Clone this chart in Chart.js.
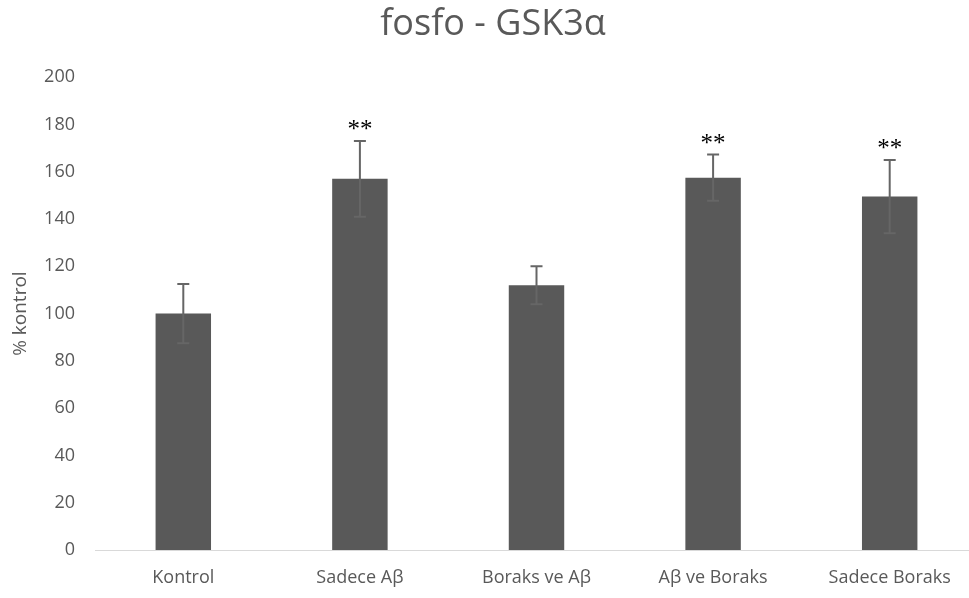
<!DOCTYPE html>
<html>
<head>
<meta charset="utf-8">
<script src="https://cdn.jsdelivr.net/npm/chart.js@4/dist/chart.umd.min.js"></script>
<style>
  html, body { margin: 0; padding: 0; background: #fff; overflow: hidden; }
  #wrap { width: 980px; height: 598px; }
</style>
</head>
<body>
<div id="wrap"><canvas id="c" width="980" height="598"></canvas></div>
<script>
// Groups and measured values (% of control)
const categories = ['Kontrol', 'Sadece A\u03B2', 'Boraks ve A\u03B2', 'A\u03B2 ve Boraks', 'Sadece Boraks'];
const means = [100, 157, 112, 157.5, 149.5];
const errors = [12.5, 16, 8, 9.8, 15.5];
const significance = ['', '**', '', '**', '**'];
const yTicks = [0, 20, 40, 60, 80, 100, 120, 140, 160, 180, 200];

const textColor = '#595959';

// Error bars with caps, plus significance marks above them
const errorBarPlugin = {
  id: 'errorBars',
  afterDatasetsDraw(chart) {
    const ctx = chart.ctx;
    const meta = chart.getDatasetMeta(0);
    const y = chart.scales.y;
    ctx.save();
    meta.data.forEach((bar, i) => {
      const x = bar.x;
      const top = y.getPixelForValue(means[i] + errors[i]);
      const bottom = y.getPixelForValue(means[i] - errors[i]);
      ctx.strokeStyle = '#666666';
      ctx.lineWidth = 2;
      ctx.beginPath();
      ctx.moveTo(x, top);
      ctx.lineTo(x, bottom);
      ctx.moveTo(x - 6, top);
      ctx.lineTo(x + 6, top);
      ctx.moveTo(x - 6, bottom);
      ctx.lineTo(x + 6, bottom);
      ctx.stroke();
      if (significance[i]) {
        ctx.fillStyle = '#000000';
        ctx.font = '25px "Liberation Serif", "DejaVu Serif", serif';
        ctx.textAlign = 'center';
        ctx.textBaseline = 'alphabetic';
        ctx.fillText(significance[i], x, top - 4);
      }
    });
    ctx.restore();
  }
};

new Chart(document.getElementById('c'), {
  type: 'bar',
  data: {
    labels: categories,
    datasets: [{
      data: means,
      backgroundColor: '#595959',
      borderWidth: 0,
      categoryPercentage: 1,
      barPercentage: 0.314
    }]
  },
  options: {
    responsive: false,
    animation: false,
    layout: { padding: { left: 8, right: 2, top: 0, bottom: 10 } },
    plugins: {
      legend: { display: false },
      tooltip: { enabled: false },
      title: {
        display: true,
        text: 'fosfo - GSK3\u03B1',
        color: textColor,
        font: { family: '"Open Sans"', size: 36, weight: 'normal' },
        padding: { top: 3, bottom: 31 }
      }
    },
    scales: {
      x: {
        afterFit(scale) { scale.height = 38; },
        grid: { display: false, drawTicks: false },
        border: { display: true, color: '#d9d9d9', width: 1 },
        ticks: {
          color: textColor,
          font: { family: '"Open Sans"', size: 18 },
          padding: 17,
          maxRotation: 0,
          autoSkip: false
        }
      },
      y: {
        min: 0,
        max: 200,
        afterBuildTicks(scale) {
          scale.ticks = yTicks.map(v => ({ value: v }));
        },
        afterFit(scale) { scale.width = 87; },
        grid: { display: false, drawTicks: false },
        border: { display: false },
        ticks: {
          color: textColor,
          font: { family: '"Open Sans"', size: 18 },
          padding: 20
        },
        title: {
          display: true,
          text: '% kontrol',
          color: textColor,
          font: { family: '"Open Sans"', size: 19 },
          padding: { top: 1, bottom: 0 }
        }
      }
    }
  },
  plugins: [errorBarPlugin]
});
</script>
</body>
</html>
